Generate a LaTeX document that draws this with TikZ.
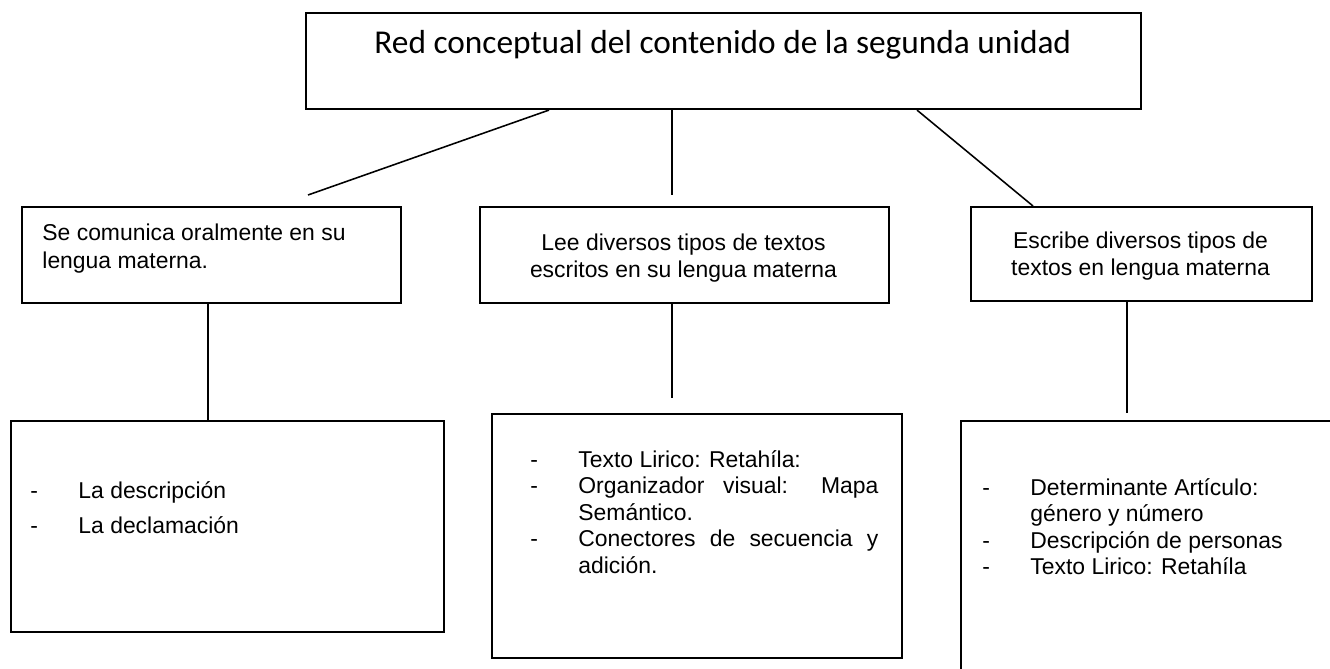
\documentclass[tikz,border=0pt]{standalone}
\usepackage{fontspec}
\setmainfont{Liberation Sans}
\newfontfamily\calibfont{Carlito}
\begin{document}
\begin{tikzpicture}[x=0.48pt,y=-0.48pt,
  box/.style={draw=black,line width=1pt,anchor=north west,inner sep=0pt},
  conn/.style={draw=black,line width=0.75pt},
  lbl/.style={anchor=base west,inner sep=0pt},
  clbl/.style={anchor=base,inner sep=0pt,align=center,font=\fontsize{11}{12.96}\selectfont}]
\useasboundingbox (0,0) rectangle (1330,668);
\clip (0,0) rectangle (1330,668);
% boxes
\node[box,minimum width=400.8pt,minimum height=46.08pt] (top) at (305,12) {};
\node[box,minimum width=181.92pt,minimum height=46.08pt] (midL) at (21,206) {};
\node[box,minimum width=196.32pt,minimum height=46.08pt] (midC) at (479,206) {};
\node[box,minimum width=163.68pt,minimum height=45.12pt] (midR) at (970,206) {};
\node[box,minimum width=207.84pt,minimum height=101.28pt] (botL) at (10,420) {};
\node[box,minimum width=196.8pt,minimum height=117.12pt] (botC) at (491,413) {};
\node[box,minimum width=192pt,minimum height=134.4pt] (botR) at (960,420) {};
% texts
\node[lbl,font=\calibfont\fontsize{16}{19}\selectfont] (title) at (374,53) {Red conceptual del contenido de la segunda unidad};
\node[lbl,font=\fontsize{11}{13.44}\selectfont] (tL) at (42,240) {\begin{tabular}[t]{@{}l@{}}Se comunica oralmente en su\\ lengua materna.\end{tabular}};
\node[clbl] (tC) at (683.5,250) {\begin{tabular}[t]{@{}c@{}}Lee diversos tipos de textos\\ escritos en su lengua materna\end{tabular}};
\node[clbl] (tR) at (1140.5,248) {\begin{tabular}[t]{@{}c@{}}Escribe diversos tipos de\\ textos en lengua materna\end{tabular}};
\node[lbl,font=\fontsize{11}{16.8}\selectfont] (bL) at (30,498) {\begin{tabular}[t]{@{}p{23.04pt}@{}l@{}}-&La descripción\\ -&La declamación\end{tabular}};
\node[lbl,font=\fontsize{11}{12.72}\selectfont] (bC) at (530,467) {\begin{tabular}[t]{@{}p{23.04pt}@{}l@{}}-&Texto Lirico: Retahíla:\\ -&\makebox[144pt][s]{Organizador visual: Mapa}\\ &Semántico.\\ -&\makebox[144pt][s]{Conectores de secuencia y}\\ &adición.\end{tabular}};
\node[lbl,font=\fontsize{11}{12.72}\selectfont] (bR) at (982,495) {\begin{tabular}[t]{@{}p{23.04pt}@{}l@{}}-&Determinante Artículo:\\ &género y número\\ -&Descripción de personas\\ -&Texto Lirico: Retahíla\end{tabular}};
% free ends
\coordinate (eL) at (308,195);
\coordinate (eC) at (672,195);
\coordinate (dC) at (672,398);
\coordinate (dR) at (1127,413);
% connectors
\draw[conn] (549,0 |- top.south) -- (eL);
\draw[conn] (672,0 |- top.south) -- (eC);
\draw[conn] (917,0 |- top.south) -- (1033,0 |- midR.north);
\draw[conn] (208,0 |- midL.south) -- (208,0 |- botL.north);
\draw[conn] (672,0 |- midC.south) -- (dC);
\draw[conn] (1127,0 |- midR.south) -- (dR);
\end{tikzpicture}
\end{document}
